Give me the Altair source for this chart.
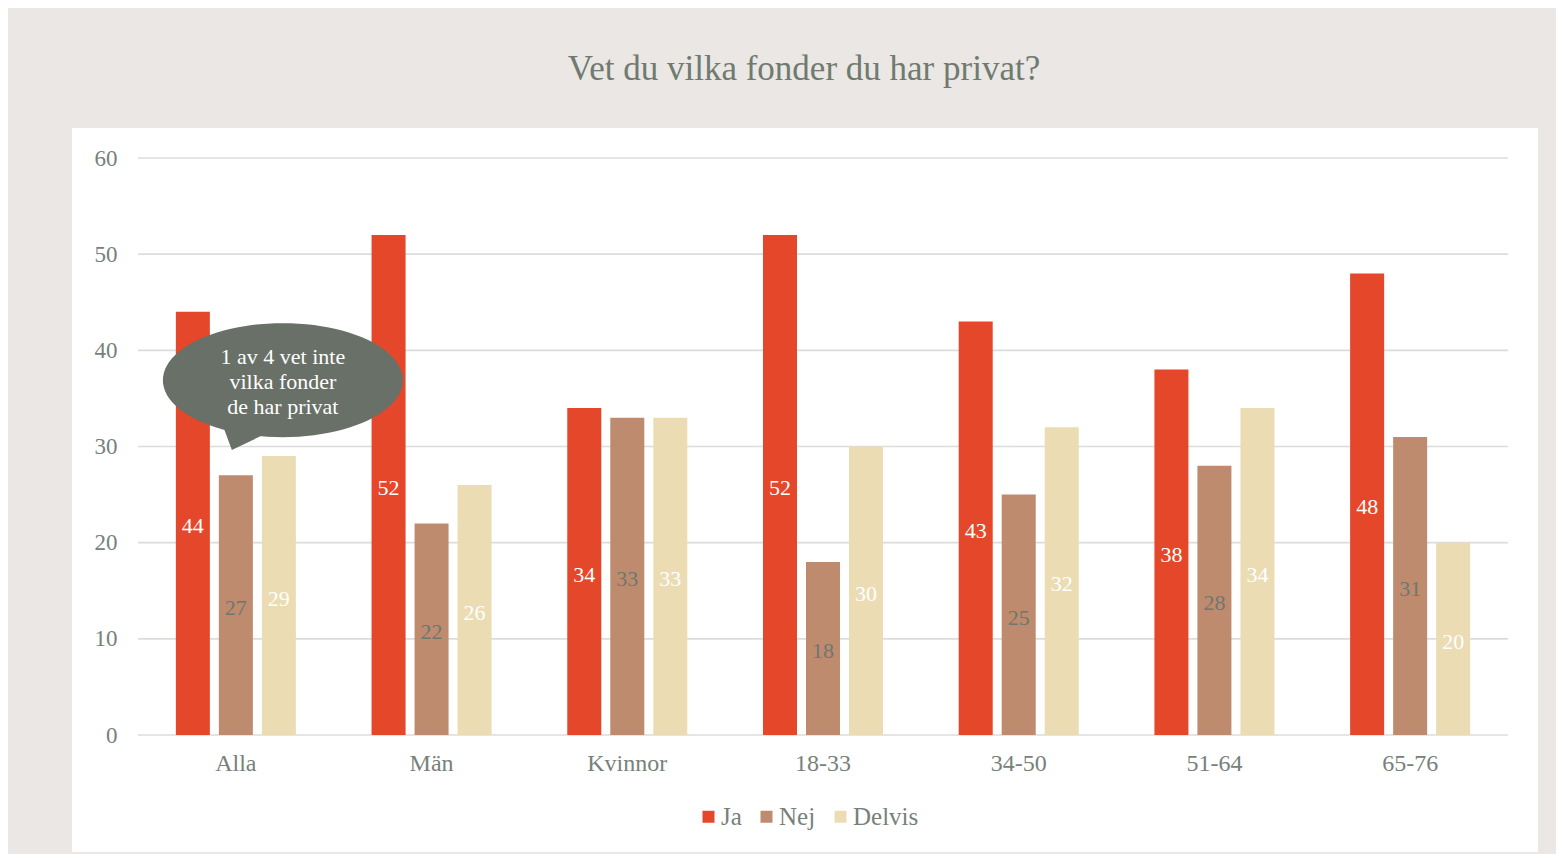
import altair as alt
import pandas as pd
import numpy as np

categories = ["Alla", "Män", "Kvinnor", "18-33", "34-50", "51-64", "65-76"]
series = ["Ja", "Nej", "Delvis"]
ja = [44, 52, 34, 52, 43, 38, 48]
nej = [27, 22, 33, 18, 25, 28, 31]
delvis = [29, 26, 33, 30, 32, 34, 20]
y_ticks = [0, 10, 20, 30, 40, 50, 60]
bar_colors = ["#e5472a", "#bf8b6e", "#ebdcb4"]
value_label_colors = ["#ffffff", "#6e776f", "#ffffff"]
title_text = "Vet du vilka fonder du har privat?"
callout_text = ["1 av 4 vet inte", "vilka fonder", "de har privat"]
callout_cat = "Alla"
callout_serie = "Delvis"
callout_y = 36.9

FONT = "Georgia, 'Liberation Serif', serif"
GRAY = "#77817a"

rows = []
for s, vals, lc in zip(series, [ja, nej, delvis], value_label_colors):
    for c, v in zip(categories, vals):
        rows.append({"cat": c, "serie": s, "value": v, "half": v / 2, "lc": lc})
df = pd.DataFrame(rows)

W, H = 1370, 577

x_scale = alt.Scale(domain=categories, paddingInner=0, paddingOuter=0)
xo_scale = alt.Scale(domain=series, paddingInner=0.209, paddingOuter=0.88)
y_scale = alt.Scale(domain=[0, 60], nice=False, zero=True)

x_axis = alt.Axis(title=None, labelAngle=0, domain=False, ticks=False, grid=False,
                  labelPadding=16, labelFontSize=24, labelColor=GRAY, labelFont=FONT, zindex=1)
y_axis = alt.Axis(title=None, values=y_ticks, domain=False, ticks=False, grid=False,
                  labelPadding=21, labelFontSize=23, labelColor=GRAY, labelFont=FONT, zindex=1)

# white panel behind the plot
panel = alt.Chart(pd.DataFrame({"a": [0]})).mark_rect(color="#ffffff").encode(
    x=alt.value(-66), x2=alt.value(1400), y=alt.value(-30), y2=alt.value(694)
)

grid = alt.Chart(pd.DataFrame({"t": y_ticks})).mark_rule(color="#dcdcdc", strokeWidth=1.6).encode(
    y=alt.Y("t:Q", scale=y_scale, axis=y_axis)
)

bars = alt.Chart(df).mark_bar().encode(
    x=alt.X("cat:N", scale=x_scale, axis=x_axis, sort=categories),
    xOffset=alt.XOffset("serie:N", scale=xo_scale, sort=series),
    y=alt.Y("value:Q", scale=y_scale, axis=y_axis),
    color=alt.Color("serie:N", scale=alt.Scale(domain=series, range=bar_colors), sort=series,
                    legend=alt.Legend(title=None, orient="none", legendX=558, legendY=646,
                                      direction="horizontal", symbolType="square", symbolSize=144,
                                      symbolStrokeWidth=0, labelFontSize=25, labelColor=GRAY,
                                      labelFont=FONT, columnPadding=12, labelOffset=0)),
)

labels = alt.Chart(df).mark_text(font=FONT, fontSize=22, baseline="middle", dy=3).encode(
    x=alt.X("cat:N", scale=x_scale, axis=x_axis, sort=categories),
    xOffset=alt.XOffset("serie:N", scale=xo_scale, sort=series),
    y=alt.Y("half:Q", scale=y_scale, axis=y_axis),
    text=alt.Text("value:Q"),
    color=alt.Color("lc:N", scale=None),
)

# speech bubble shape (unit path, scaled by symbol size)
sx = 4 / 120
t = np.linspace(0, 2 * np.pi, 97)[:-1]
ell = " ".join(f"{'M' if i == 0 else 'L'} {np.cos(a) + sx:.4f} {0.475 * np.sin(a):.4f}" for i, a in enumerate(t)) + " Z"
tail = f"M {-0.5 + sx:.4f} 0.38 L {-0.13 + sx:.4f} 0.44 L {-0.425 + sx:.4f} 0.583 Z"
bubble_path = ell + " " + tail

ann = pd.DataFrame({"cat": [callout_cat], "serie": [callout_serie], "y": [callout_y],
                    "txt": [callout_text]})

bubble = alt.Chart(ann).mark_point(shape=bubble_path, filled=True, opacity=1, color="#697068",
                                   size=240 * 240, strokeWidth=0).encode(
    x=alt.X("cat:N", scale=x_scale, axis=x_axis, sort=categories),
    xOffset=alt.XOffset("serie:N", scale=xo_scale, sort=series),
    y=alt.Y("y:Q", scale=y_scale, axis=y_axis),
)

bubble_text = alt.Chart(ann).mark_text(font=FONT, fontSize=22, color="#ffffff", baseline="middle",
                                       lineHeight=25, dx=4, dy=-23).encode(
    x=alt.X("cat:N", scale=x_scale, axis=x_axis, sort=categories),
    xOffset=alt.XOffset("serie:N", scale=xo_scale, sort=series),
    y=alt.Y("y:Q", scale=y_scale, axis=y_axis),
    text="txt",
)

chart = alt.layer(panel, grid, bars, labels, bubble, bubble_text).properties(
    width=W, height=H,
    title=alt.TitleParams(title_text, fontSize=35, color="#6f7a70", font=FONT, fontWeight="normal",
                          anchor="middle", frame="group", offset=13, baseline="alphabetic", dx=-19),
    background="#ebe7e4",
    padding={"left": 130, "top": 150, "right": 48, "bottom": 119},
    autosize=alt.AutoSizeParams(type="none"),
).configure_view(stroke=None)

chart.save("out.html", embed_options={"renderer": "svg", "actions": False})
